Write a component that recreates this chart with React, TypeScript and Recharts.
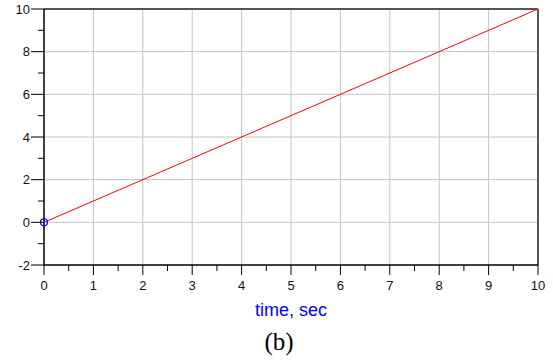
import React from 'react';
import { LineChart, Line, XAxis, YAxis, ReferenceLine } from 'recharts';

const times = [0, 10];
const values = [0, 10];
const xTicks = [0, 0.5, 1, 1.5, 2, 2.5, 3, 3.5, 4, 4.5, 5, 5.5, 6, 6.5, 7, 7.5, 8, 8.5, 9, 9.5, 10];
const yTicks = [-2, -1, 0, 1, 2, 3, 4, 5, 6, 7, 8, 9, 10];
const xGrid = [1, 2, 3, 4, 5, 6, 7, 8, 9];
const yGrid = [0, 2, 4, 6, 8];

const data = times.map((t, i) => ({ t, v: values[i] }));

const FONT = '"Liberation Sans", Arial, sans-serif';

const XTick = (props: any) => {
  const { x, y, payload } = props;
  const major = Number.isInteger(payload.value);
  return (
    <g>
      <line x1={x} y1={y} x2={x} y2={y + (major ? 10 : 6)} stroke="#000" strokeWidth={1} />
      {major && (
        <text x={x} y={y + 25} textAnchor="middle" fontSize={13} fontFamily={FONT} fill="#111">
          {payload.value}
        </text>
      )}
    </g>
  );
};

const YTick = (props: any) => {
  const { x, y, payload } = props;
  const major = payload.value % 2 === 0;
  return (
    <g>
      <line x1={x} y1={y} x2={x - (major ? 13 : 6)} y2={y} stroke="#000" strokeWidth={1} />
      {major && (
        <text x={x - 14} y={y + 4.5} textAnchor="end" fontSize={13} fontFamily={FONT} fill="#111">
          {payload.value}
        </text>
      )}
    </g>
  );
};

const StartDot = (props: any) => {
  const { cx, cy, index } = props;
  if (index !== 0) return <g key={index} />;
  return <circle key={index} cx={cx} cy={cy} r={3.5} fill="none" stroke="#0000ff" strokeWidth={1.2} />;
};

export default function App() {
  return (
    <div style={{ position: 'absolute', left: 0, top: 0, width: 553, height: 362, background: '#fff' }}>
      <LineChart width={553} height={300} data={data} margin={{ top: 9, right: 15, left: 0, bottom: 0 }}>
        {xGrid.map((v) => (
          <ReferenceLine key={'x' + v} x={v} stroke="#c4c4c4" strokeWidth={1} />
        ))}
        {yGrid.map((v) => (
          <ReferenceLine key={'y' + v} y={v} stroke="#c4c4c4" strokeWidth={1} />
        ))}
        <ReferenceLine y={10} stroke="#555" strokeWidth={2} />
        <ReferenceLine x={10} stroke="#555" strokeWidth={2} />
        <XAxis
          dataKey="t"
          type="number"
          domain={[0, 10]}
          ticks={xTicks}
          interval={0}
          height={35}
          tickSize={0}
          tickMargin={0}
          tickLine={false}
          axisLine={{ stroke: '#000', strokeWidth: 1.5 }}
          tick={<XTick />}
        />
        <YAxis
          type="number"
          domain={[-2, 10]}
          ticks={yTicks}
          interval={0}
          width={44}
          tickSize={0}
          tickMargin={0}
          tickLine={false}
          axisLine={{ stroke: '#000', strokeWidth: 1.5 }}
          tick={<YTick />}
        />
        <Line
          type="linear"
          dataKey="v"
          stroke="#ff0000"
          strokeWidth={1}
          dot={<StartDot />}
          activeDot={false}
          isAnimationActive={false}
        />
      </LineChart>
      <div
        style={{
          position: 'absolute',
          left: 191,
          width: 200,
          top: 300,
          textAlign: 'center',
          fontFamily: FONT,
          fontSize: 18,
          color: '#0000ff',
        }}
      >
        time, sec
      </div>
      <div
        style={{
          position: 'absolute',
          left: 179,
          width: 200,
          top: 328,
          textAlign: 'center',
          fontFamily: '"Liberation Serif", "Times New Roman", serif',
          fontSize: 25,
          color: '#000',
        }}
      >
        (b)
      </div>
    </div>
  );
}
